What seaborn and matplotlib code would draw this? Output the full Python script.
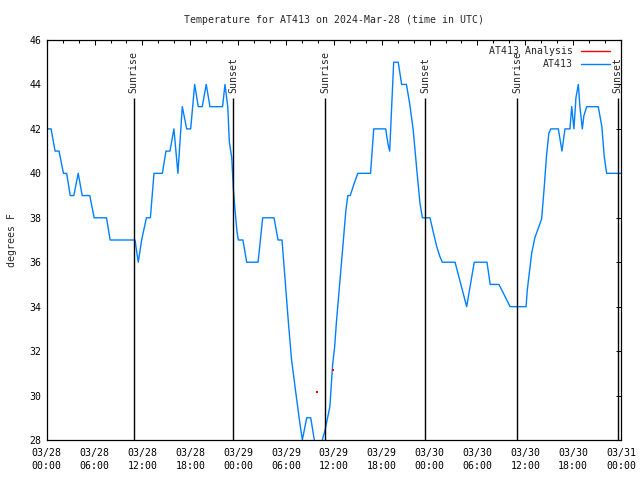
import numpy as np
import pandas as pd
import matplotlib
matplotlib.use("Agg")
import matplotlib.pyplot as plt
import matplotlib.dates as mdates
from matplotlib.lines import Line2D
import seaborn as sns

# ---------------- data ----------------
start = pd.Timestamp("2024-03-28 00:00")
end = pd.Timestamp("2024-03-31 00:00")

# hours since 2024-03-28 00:00 UTC and temperature (deg F) for AT413
obs_hours = [0.0, 0.55, 1.05, 1.55, 2.1, 2.5, 2.95, 3.4, 3.95, 4.45, 5.4, 5.95, 7.5, 7.95,
             11.07, 11.48, 11.9, 12.5, 13.0, 13.45, 14.5, 14.95, 15.45, 15.95, 16.45, 17.0,
             17.55, 18.05, 18.55, 19.0, 19.5, 20.0, 20.47, 22.05, 22.35, 22.7, 22.9, 23.2,
             23.4, 23.62, 23.85, 24.02, 24.6, 25.07, 26.5, 27.08, 28.5, 29.0, 29.5, 29.87,
             30.3, 30.7, 31.35, 31.76, 32.05, 32.6, 33.1, 33.55, 34.0, 34.55, 34.9, 35.5,
             35.85, 36.1, 36.3, 36.7, 37.15, 37.5, 37.75, 38.05, 38.6, 39.0, 40.6, 41.0,
             42.5, 42.8, 43.0, 43.5, 44.07, 44.5, 45.1, 45.5, 45.95, 46.4, 46.8, 47.1,
             48.05, 48.5, 48.9, 49.3, 49.6, 51.2, 52.65, 53.6, 55.2, 55.6, 56.7, 58.1,
             60.1, 60.25, 60.6, 60.8, 61.2, 61.6, 62.05, 62.35, 62.65, 62.95, 63.2, 64.14,
             64.6, 64.97, 65.6, 65.82, 66.1, 66.35, 66.65, 66.85, 67.15, 67.35, 67.7,
             69.15, 69.6, 69.9, 70.2, 72.0]
obs_temps = [42, 42, 41, 41, 40, 40, 39, 39, 40, 39, 39, 38, 38, 37,
             37, 36, 37, 38, 38, 40, 40, 41, 41, 42, 40, 43,
             42, 42, 44, 43, 43, 44, 43, 43, 44, 43, 41.4, 40.7,
             39.3, 38.3, 37.4, 37, 37, 36, 36, 38, 38, 37, 37, 35.3,
             33.3, 31.6, 29.8, 28.7, 28, 29, 29, 28, 27, 28, 28.45, 29.5,
             31.4, 32.2, 33.2, 34.9, 36.8, 38.3, 39, 39, 39.6, 40, 40, 42,
             42, 41.3, 41, 45, 45, 44, 44, 43.15, 41.95, 40.15, 38.65, 38,
             38, 37.3, 36.7, 36.25, 36, 36, 34, 36, 36, 35, 35, 34,
             34, 34.75, 35.8, 36.4, 37.1, 37.5, 37.95, 39.25, 40.75, 41.8, 42, 42,
             41, 42, 42, 43, 42, 43.4, 44, 43, 42, 42.6, 43,
             43, 42.1, 40.75, 40, 40]

# AT413 Analysis (isolated points)
ana_hours = [33.93, 35.94]
ana_temps = [30.14, 31.14]

# sunrise / sunset times (hours since start)
sun_hours = [10.91, 23.37, 34.91, 47.45, 59.0, 71.59]
sun_labels = ["Sunrise", "Sunset", "Sunrise", "Sunset", "Sunrise", "Sunset"]

title = "Temperature for AT413 on 2024-Mar-28 (time in UTC)"
ylabel = "degrees F"
y_ticks = [28, 30, 32, 34, 36, 38, 40, 42, 44, 46]

# ---------------- build frames ----------------
obs = pd.DataFrame({"time": start + pd.to_timedelta(obs_hours, unit="h"),
                    "temp": obs_temps})
ana = pd.DataFrame({"time": start + pd.to_timedelta(ana_hours, unit="h"),
                    "temp": ana_temps})
sun_times = start + pd.to_timedelta(sun_hours, unit="h")

# ---------------- plot ----------------
sns.set_style("white")
FONT = ["DejaVu Sans Mono"]
plt.rcParams["font.family"] = FONT
FS = 7.1

blue = "#0080ff"
red = "#ff0000"

fig = plt.figure(figsize=(6.4, 4.8), dpi=100)
ax = fig.add_axes([46.7 / 640, 40 / 480, 574.3 / 640, 400 / 480])

sns.lineplot(data=obs, x="time", y="temp", ax=ax, color=blue, linewidth=1.0,
             legend=False, estimator=None, sort=False)
sns.scatterplot(data=ana, x="time", y="temp", ax=ax, color=red, s=2, marker="s",
                linewidth=0, legend=False, zorder=4)

ax.set_xlim(start, end)
ax.set_ylim(28, 46)
ax.set_yticks(y_ticks)
ax.set_yticklabels([str(v) for v in y_ticks], fontsize=FS)

ax.xaxis.set_major_locator(mdates.HourLocator(byhour=range(0, 24, 6)))
ax.xaxis.set_minor_locator(mdates.HourLocator(byhour=range(0, 24, 2)))
ax.xaxis.set_major_formatter(mdates.DateFormatter("%m/%d\n%H:%M"))
ax.tick_params(axis="x", labelsize=FS)

ax.tick_params(which="both", direction="in", top=True, right=True, colors="black",
               labelcolor="black")
ax.tick_params(which="major", length=3.3, width=0.75, pad=6)
ax.tick_params(which="minor", length=1.9, width=0.75)
ax.tick_params(axis="y", pad=4)
fig.canvas.draw()
for lab in ax.get_xticklabels():
    lab.set_linespacing(1.35)

for sp in ax.spines.values():
    sp.set_color("black")
    sp.set_linewidth(0.9)

ax.set_xlabel("")
ax.set_ylabel(ylabel, fontsize=FS, labelpad=9)
ax.set_title(title, fontsize=FS, pad=12.5)

# sunrise / sunset markers
ax.vlines(sun_times, 28, 43.38, color="black", linewidth=1.0, zorder=3)
for t, lab in zip(sun_times, sun_labels):
    ax.text(t, 43.62, lab, rotation=90, ha="center", va="bottom", fontsize=FS,
            clip_on=False)

handles = [Line2D([], [], color=red, linewidth=1.0),
           Line2D([], [], color=blue, linewidth=1.0)]
ax.legend(handles, ["AT413 Analysis", "AT413"], loc="upper right",
          bbox_to_anchor=(0.98, 0.985), markerfirst=False, frameon=False,
          fontsize=FS, handlelength=2.9, handletextpad=0.8, borderpad=0,
          borderaxespad=0, labelspacing=0.3)

fig.savefig("out.png", dpi=100)
